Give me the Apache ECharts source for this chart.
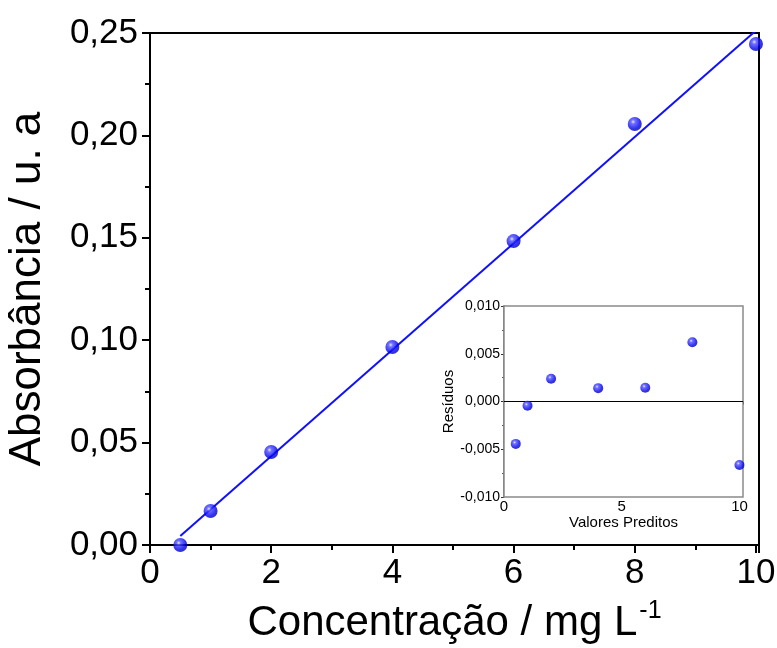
<!DOCTYPE html>
<html>
<head>
<meta charset="utf-8">
<script src="https://cdn.jsdelivr.net/npm/echarts@6/dist/echarts.min.js"></script>
<style>html,body{margin:0;padding:0;background:#fff}#c{width:777px;height:648px}</style>
</head>
<body>
<div id="c"></div>
<script>
// Main calibration data
const concentration = [0.5, 1, 2, 4, 6, 8, 10];
const absorbance = [0.000, 0.0166, 0.0454, 0.0967, 0.1484, 0.2056, 0.2446];
// Fit line endpoints
const fitX = [0.5, 10];
const fitY = [0.0044, 0.2512];
// Inset residuals
const predicted = [0.5, 1, 2, 4, 6, 8, 10];
const residuals = [-0.00444, -0.00045, 0.00238, 0.0014, 0.00144, 0.0062, -0.00664];

const FONT = 'Liberation Sans';
const sphere = {
  type: 'radial', x: 0.38, y: 0.35, r: 0.7,
  colorStops: [
    {offset: 0, color: '#dfe4ff'},
    {offset: 0.22, color: '#4d4dff'},
    {offset: 0.7, color: '#0000f0'},
    {offset: 1, color: '#0000a8'}
  ]
};
const pair = (xs, ys) => xs.map((x, i) => [x, ys[i]]);
const comma = (v, d) => v.toFixed(d).replace('.', ',');
const onMult = (v, step) => Math.abs(v - Math.round(v / step) * step) < 1e-9;

const chart = echarts.init(document.getElementById('c'));
chart.setOption({
  animation: false,
  backgroundColor: '#fff',
  textStyle: {fontFamily: FONT},
  grid: [
    {left: 150, top: 33, right: 18, bottom: 103, outerBoundsMode: 'none', containLabel: false,
      show: true, borderColor: '#000', borderWidth: 2, backgroundColor: 'transparent'},
    {left: 504, top: 306, right: 34, bottom: 151, outerBoundsMode: 'none', containLabel: false,
      show: true, borderColor: '#8a8a8a', borderWidth: 1.5, backgroundColor: '#fff', z: 5}
  ],
  xAxis: [
    {
      gridIndex: 0, type: 'value', min: 0, max: 10.05, interval: 2,
      name: 'Concentração / mg L{sup|-1}', nameLocation: 'middle', nameGap: 54,
      nameTextStyle: {fontSize: 42, color: '#000', fontFamily: FONT,
        rich: {sup: {fontSize: 25, verticalAlign: 'top', padding: [0, 0, 24, 2], color: '#000', fontFamily: FONT}}},
      axisLine: {show: true, lineStyle: {color: '#000', width: 2}},
      axisTick: {show: true, length: 8, inside: false, lineStyle: {color: '#000', width: 2}},
      minorTick: {show: true, splitNumber: 2, length: 5, lineStyle: {color: '#000', width: 2}},
      splitLine: {show: false},
      axisLabel: {fontSize: 35, color: '#000', margin: 11, fontFamily: FONT,
        formatter: v => onMult(v, 2) ? String(v) : ''}
    },
    {
      gridIndex: 1, type: 'value', min: 0, max: 10.15, interval: 5,
      name: 'Valores Preditos', nameLocation: 'middle', nameGap: 16,
      nameTextStyle: {fontSize: 15, color: '#000', fontFamily: FONT},
      axisLine: {show: true, lineStyle: {color: '#555', width: 1.5}},
      axisTick: {show: true, length: 3, lineStyle: {color: '#333'}},
      minorTick: {show: true, splitNumber: 2, length: 3, lineStyle: {color: '#555'}},
      splitLine: {show: false},
      axisLabel: {fontSize: 15, color: '#000', margin: 2, fontFamily: FONT,
        formatter: v => onMult(v, 5) ? String(v) : ''}
    }
  ],
  yAxis: [
    {
      gridIndex: 0, type: 'value', min: 0, max: 0.25, interval: 0.05,
      name: 'Absorbância / u. a', nameLocation: 'middle', nameGap: 100,
      nameTextStyle: {fontSize: 44, color: '#000', fontFamily: FONT},
      axisLine: {show: true, lineStyle: {color: '#000', width: 2}},
      axisTick: {show: true, length: 8, lineStyle: {color: '#000', width: 2}},
      minorTick: {show: true, splitNumber: 2, length: 5, lineStyle: {color: '#000', width: 2}},
      splitLine: {show: false},
      axisLabel: {fontSize: 35, color: '#000', margin: 12, fontFamily: FONT,
        formatter: v => comma(v, 2)}
    },
    {
      gridIndex: 1, type: 'value', min: -0.01, max: 0.01, interval: 0.005,
      name: 'Resíduos', nameLocation: 'middle', nameGap: 44,
      nameTextStyle: {fontSize: 15, color: '#000', fontFamily: FONT},
      axisLine: {show: true, lineStyle: {color: '#555', width: 1.5}},
      axisTick: {show: true, length: 3, lineStyle: {color: '#333'}},
      minorTick: {show: true, splitNumber: 2, length: 2, lineStyle: {color: '#555'}},
      splitLine: {show: false},
      axisLabel: {fontSize: 14, color: '#000', margin: 4, fontFamily: FONT,
        formatter: v => comma(v, 3)}
    }
  ],
  series: [
    {
      type: 'line', xAxisIndex: 0, yAxisIndex: 0, data: pair(fitX, fitY),
      showSymbol: false, clip: true, lineStyle: {color: '#1010ff', width: 2}, z: 2
    },
    {
      type: 'scatter', xAxisIndex: 0, yAxisIndex: 0, data: pair(concentration, absorbance),
      symbol: 'circle', symbolSize: 14, itemStyle: {color: sphere}, z: 3
    },
    {
      type: 'scatter', xAxisIndex: 1, yAxisIndex: 1, data: pair(predicted, residuals),
      symbol: 'circle', symbolSize: 10, itemStyle: {color: sphere}, z: 6,
      markLine: {silent: true, symbol: 'none', label: {show: false},
        lineStyle: {color: '#000', width: 1.2, type: 'solid'}, data: [{yAxis: 0}]}
    }
  ]
});
</script>
</body>
</html>
